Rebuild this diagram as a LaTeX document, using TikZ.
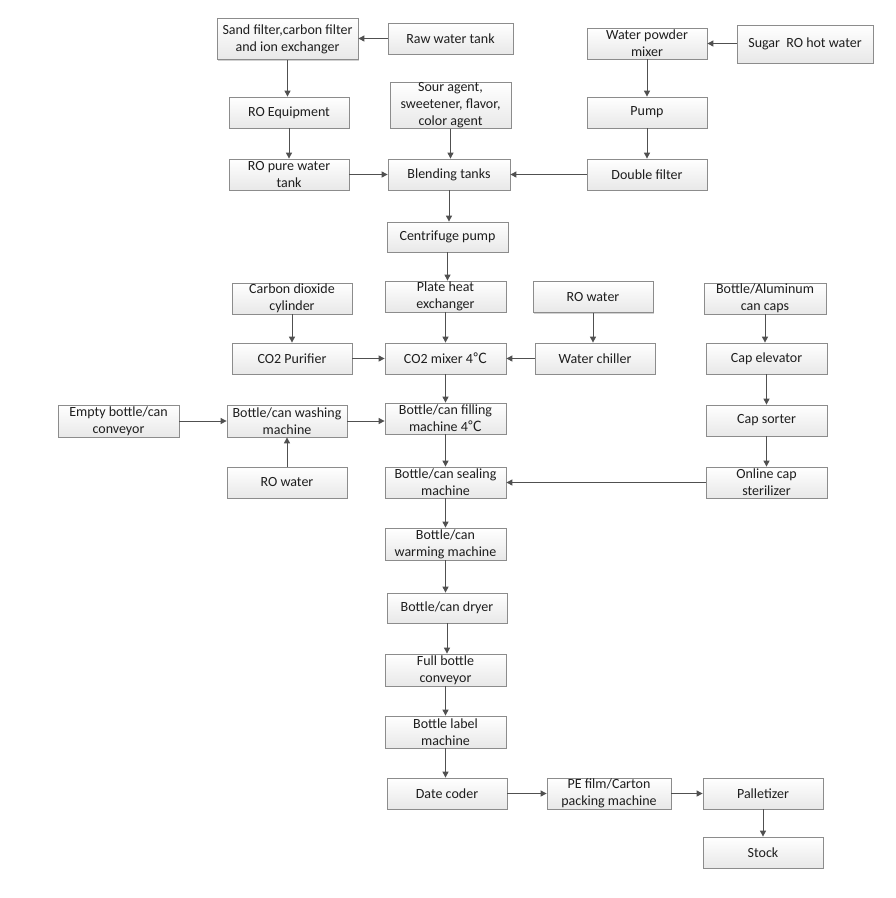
\documentclass[tikz,border=0pt]{standalone}
\usepackage{fontspec}
\setmainfont{Carlito}
\newfontfamily\cjkf{Noto Sans CJK SC}
\newcommand{\degc}{{\cjkf ℃}}
\usetikzlibrary{arrows.meta,shadows}
\definecolor{txt}{HTML}{1E1E1E}
\definecolor{bord}{HTML}{8C8C8C}
\definecolor{arr}{HTML}{505050}
\tikzset{
  box/.style={draw=bord, line width=0.8pt, top color=white, bottom color=black!9,
    drop shadow={shadow xshift=1.2pt, shadow yshift=-1.2pt, fill=black, opacity=0.18},
    minimum width=120pt, minimum height=31pt, inner sep=0pt, align=center,
    text=txt, font=\fontsize{14}{17}\selectfont},
  conn/.style={draw=arr, line width=1pt, -{Triangle[length=6pt,width=6pt]}}
}
\begin{document}
\begin{tikzpicture}[x=1pt,y=1pt]
\useasboundingbox (0,0) rectangle (896,-898);
\fill[white] (0,0) rectangle (896,-898);
% top-left
\node[box, minimum width=141pt, minimum height=41pt] (sand) at (287.5,-39) {Sand filter,carbon filter\\and ion exchanger};
\node[box, minimum width=125pt] (raw) at (450.5,-38.5) {Raw water tank};
\node[box] (roeq) at (289,-112.5) {RO Equipment};
\node[box, minimum width=121pt, minimum height=45pt] (sour) at (450.5,-105.5) {Sour agent,\\sweetener, flavor,\\color agent};
\node[box] (ropure) at (289,-174.5) {RO pure water\\tank};
\node[box, minimum width=122pt] (blend) at (449,-174.5) {Blending tanks};
% top-right
\node[box] (wpm) at (647,-43.5) {Water powder\\mixer};
\node[box, minimum width=136pt, minimum height=38pt] (sugar) at (805,-44) {Sugar\ \ RO hot water};
\node[box] (pump) at (647,-112.5) {Pump};
\node[box] (dfilter) at (647,-174.5) {Double filter};
% middle
\node[box, minimum width=121pt, minimum height=30pt] (centri) at (447.5,-237) {Centrifuge pump};
\node[box, minimum width=121pt] (plate) at (445.5,-296.5) {Plate heat\\exchanger};
\node[box] (co2cyl) at (292,-298.5) {Carbon dioxide\\cylinder};
\node[box] (co2pur) at (292,-358.5) {CO2 Purifier};
\node[box, minimum width=121pt] (co2mix) at (445.5,-358.5) {CO2 mixer 4\degc};
\node[box] (rowaterb) at (593,-297) {RO water};
\node[box] (chiller) at (595,-358.5) {Water chiller};
\node[box, minimum width=122pt] (caps) at (765,-298.5) {Bottle/Aluminum\\can caps};
\node[box, minimum width=121pt] (capelev) at (766.5,-358.5) {Cap elevator};
\node[box, minimum width=121pt] (capsort) at (766.5,-420.5) {Cap sorter};
\node[box, minimum width=121pt] (steril) at (766.5,-482.5) {Online cap\\sterilizer};
\node[box, minimum width=121pt, minimum height=32pt] (empty) at (118.5,-421) {Empty bottle/can\\conveyor};
\node[box, minimum height=32pt] (wash) at (287,-421) {Bottle/can washing\\machine};
\node[box, minimum width=121pt] (fill) at (445.5,-418.5) {Bottle/can filling\\machine 4\degc};
\node[box] (rowatera) at (287,-482.5) {RO water};
\node[box, minimum width=121pt] (seal) at (445.5,-482.5) {Bottle/can sealing\\machine};
\node[box, minimum width=121pt, minimum height=32pt] (warm) at (445.5,-544) {Bottle/can\\warming machine};
\node[box, minimum height=30pt] (dryer) at (447,-608) {Bottle/can dryer};
\node[box, minimum width=121pt, minimum height=32pt] (full) at (445.5,-670) {Full bottle\\conveyor};
\node[box, minimum width=121pt, minimum height=32pt] (label) at (445.5,-732) {Bottle label\\machine};
% bottom
\node[box] (date) at (447,-793.5) {Date coder};
\node[box, minimum width=124pt] (pe) at (609,-793.5) {PE film/Carton\\packing machine};
\node[box] (pallet) at (763,-793.5) {Palletizer};
\node[box] (stock) at (763,-852.5) {Stock};
% connectors
\draw[conn] (raw.west) -- (sand.east |- raw.west);
\draw[conn] (sand.south) -- (sand.south |- roeq.north);
\draw[conn] (roeq.south) -- (roeq.south |- ropure.north);
\draw[conn] (ropure.east) -- (blend.west);
\draw[conn] (sour.south) -- (sour.south |- blend.north);
\draw[conn] (dfilter.west) -- (blend.east);
\draw[conn] (sugar.west |- wpm.east) -- (wpm.east);
\draw[conn] (wpm.south) -- (pump.north);
\draw[conn] (pump.south) -- (dfilter.north);
\draw[conn] (blend.south) -- (blend.south |- centri.north);
\draw[conn] (centri.south) -- (centri.south |- plate.north);
\draw[conn] (plate.south) -- (co2mix.north);
\draw[conn] (co2mix.south) -- (fill.north);
\draw[conn] (fill.south) -- (seal.north);
\draw[conn] (seal.south) -- (warm.north);
\draw[conn] (warm.south) -- (warm.south |- dryer.north);
\draw[conn] (dryer.south) -- (dryer.south |- full.north);
\draw[conn] (full.south) -- (label.north);
\draw[conn] (label.south) -- (label.south |- date.north);
\draw[conn] (co2cyl.south) -- (co2pur.north);
\draw[conn] (co2pur.east) -- (co2mix.west);
\draw[conn] (rowaterb.south) -- (rowaterb.south |- chiller.north);
\draw[conn] (chiller.west) -- (co2mix.east);
\draw[conn] (caps.south) -- (caps.south |- capelev.north);
\draw[conn] (capelev.south) -- (capsort.north);
\draw[conn] (capsort.south) -- (steril.north);
\draw[conn] (steril.west) -- (seal.east);
\draw[conn] (empty.east) -- (wash.west);
\draw[conn] (wash.east) -- (wash.east -| fill.west);
\draw[conn] (rowatera.north) -- (wash.south);
\draw[conn] (date.east) -- (pe.west);
\draw[conn] (pe.east) -- (pallet.west);
\draw[conn] (pallet.south) -- (stock.north);
\end{tikzpicture}
\end{document}
